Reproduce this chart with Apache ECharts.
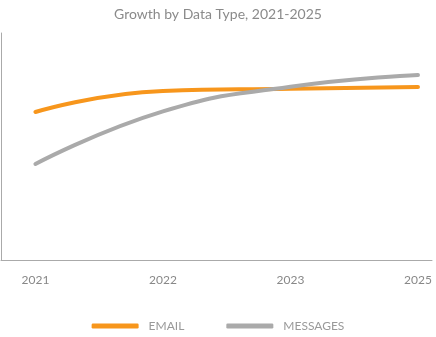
<!DOCTYPE html>
<html><head><meta charset="utf-8">
<script src="https://cdn.jsdelivr.net/npm/echarts@6/dist/echarts.min.js"></script>
<style>html,body{margin:0;padding:0;background:#fff}#c{width:436px;height:337px}</style>
</head><body><div id="c"></div>
<script>
const years = ['2021', '2022', '2023', '2025'];
const email = [65.2, 74.5, 75.4, 76.2];
const messages = [42.3, 65.5, 76.3, 81.5];

const chart = echarts.init(document.getElementById('c'));
const toPts = arr => arr.map((v, i) => [i, v]);
chart.setOption({
  animation: false,
  title: {
    text: 'Growth by Data Type, 2021-2025',
    left: 'center', top: 2,
    textStyle: {fontFamily: 'Lato', fontSize: 14, fontWeight: 'normal', color: '#8a8a8a'}
  },
  legend: {
    bottom: 0, left: 'center',
    icon: 'roundRect', itemWidth: 47, itemHeight: 5, itemGap: 42,
    textStyle: {fontFamily: 'Lato', fontSize: 12, color: '#999', padding: [0, 0, 0, 5]},
    data: ['EMAIL', 'MESSAGES']
  },
  grid: {left: 1, right: 4, top: 33, bottom: 77, containLabel: false},
  xAxis: {
    type: 'value', min: -0.27, max: 3.11,
    axisLine: {show: true, onZero: false, lineStyle: {color: '#aaa', width: 1}},
    axisTick: {show: false},
    splitLine: {show: false},
    axisLabel: {
      customValues: [0, 1, 2, 3],
      formatter: v => years[Math.round(v)],
      color: '#888', fontFamily: 'Lato', fontSize: 12, margin: 14
    }
  },
  yAxis: {
    type: 'value', min: 0, max: 100,
    axisLine: {show: true, onZero: false, lineStyle: {color: '#aaa', width: 1}},
    axisTick: {show: false}, axisLabel: {show: false}, splitLine: {show: false}
  },
  series: [
    {name: 'EMAIL', type: 'line', smooth: true, showSymbol: false, symbol: 'none',
     data: toPts(email), color: '#F7961C',
     lineStyle: {width: 4, color: '#F7961C', cap: 'round'}},
    {name: 'MESSAGES', type: 'line', smooth: true, showSymbol: false, symbol: 'none',
     data: toPts(messages), color: '#aaaaaa',
     lineStyle: {width: 4, color: '#aaaaaa', cap: 'round'}}
  ]
});
</script></body></html>
